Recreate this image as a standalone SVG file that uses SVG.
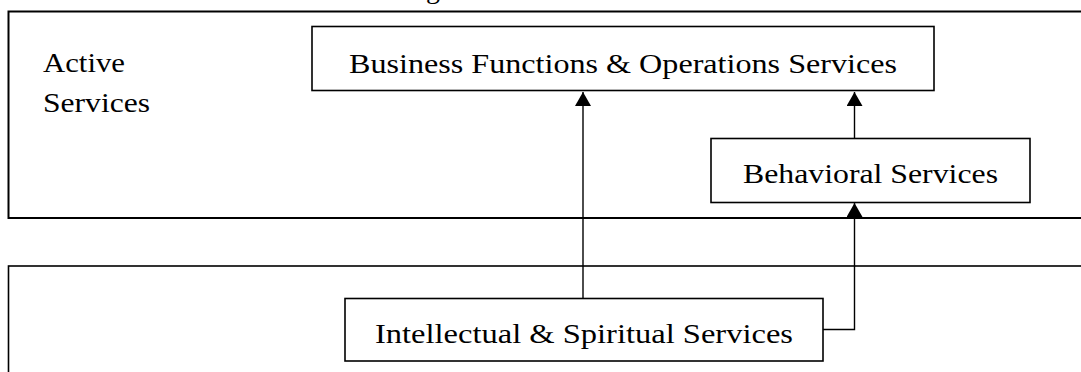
<svg xmlns="http://www.w3.org/2000/svg" width="1081" height="372" viewBox="0 0 1081 372">
<style>
  .frame{fill:none;stroke:#000;stroke-width:2}
  .box{fill:#fff;stroke:#000;stroke-width:1.6}
  .lbl{font-family:"Liberation Serif","Times New Roman",serif;font-size:28px;fill:#000}
  .conn{fill:none;stroke:#000;stroke-width:1.4}
</style>
<defs>
  <marker id="arr" markerUnits="userSpaceOnUse" markerWidth="14" markerHeight="16" refX="14" refY="8" orient="auto">
    <path d="M0,0 L14,8 L0,16 z" fill="#000"/>
  </marker>
</defs>
<rect width="1081" height="372" fill="#fff"/>
<text class="lbl" x="426" y="-2.5">g</text>
<g id="active-services-layer">
  <rect class="frame" x="8.5" y="11.5" width="1090" height="206.5"/>
  <text class="lbl" x="43" y="72" textLength="82" lengthAdjust="spacingAndGlyphs">Active</text>
  <text class="lbl" x="43" y="112" textLength="107" lengthAdjust="spacingAndGlyphs">Services</text>
</g>
<g id="lower-layer">
  <rect class="frame" x="8.5" y="266" width="1090" height="120" style="stroke-width:1.6"/>
</g>
<g id="connectors">
  <path class="conn" d="M583,298 V92" marker-end="url(#arr)"/>
  <path class="conn" d="M823,329.5 H854.5 V203" marker-end="url(#arr)"/>
  <path class="conn" d="M854.5,138 V92" marker-end="url(#arr)"/>
</g>
<g id="business-functions">
  <rect class="box" x="312" y="26.5" width="622" height="64"/>
  <text class="lbl" x="349" y="73.3" textLength="548" lengthAdjust="spacingAndGlyphs">Business Functions &amp; Operations Services</text>
</g>
<g id="behavioral">
  <rect class="box" x="711" y="138.5" width="319" height="64"/>
  <text class="lbl" x="743" y="183" textLength="255" lengthAdjust="spacingAndGlyphs">Behavioral Services</text>
</g>
<g id="intellectual">
  <rect class="box" x="345" y="298.5" width="478" height="62.5"/>
  <text class="lbl" x="375" y="343.3" textLength="418" lengthAdjust="spacingAndGlyphs">Intellectual &amp; Spiritual Services</text>
</g>
</svg>
